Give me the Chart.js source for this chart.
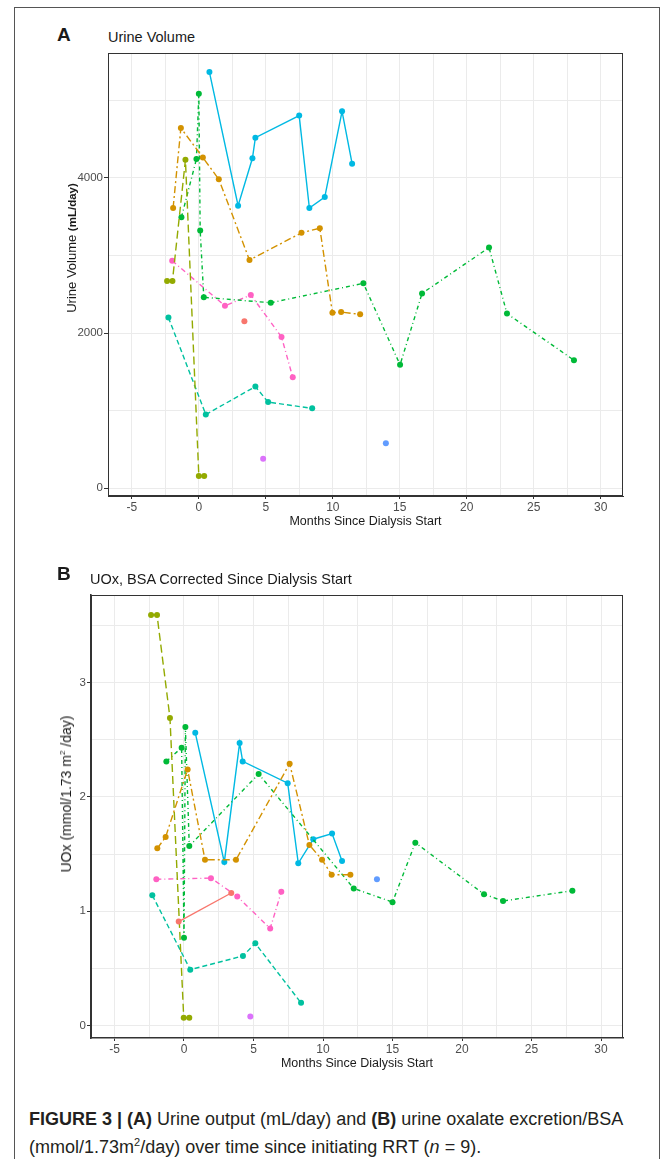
<!DOCTYPE html>
<html>
<head>
<meta charset="utf-8">
<script src="https://cdn.jsdelivr.net/npm/chart.js@4/dist/chart.umd.min.js"></script>
<style>
    body { margin: 0; background: #fff; font-family: "Liberation Sans", Arial, sans-serif; color: #1a1a1a; }
    #frame { position: absolute; left: 14px; top: 7px; width: 646px; height: 1170px; border: 1px solid #555; box-sizing: border-box; }
    canvas { position: absolute; }
    .txt { position: absolute; white-space: nowrap; line-height: 1; }
    .tag { font-weight: bold; font-size: 19px; }
    .ttl { font-size: 14.5px; }
    .ytitle { transform: translate(-50%, -50%) rotate(-90deg); }
    .caption { font-size: 18px; color: #231f20; }
</style>
</head>
<body>
<div id="frame"></div>

<div class="txt tag" style="left:57px; top:25px;">A</div>
<div class="txt ttl" style="left:108px; top:30px;">Urine Volume</div>
<canvas id="chartA" width="626" height="490" style="left:14px; top:44px;"></canvas>
<div class="txt ytitle" style="left:72px; top:248px; font-size:13px;">Urine Volume <b style="font-size:11.5px;">(mL/day)</b></div>

<div class="txt tag" style="left:57px; top:564px;">B</div>
<div class="txt ttl" style="left:90px; top:572px;">UOx, BSA Corrected Since Dialysis Start</div>
<canvas id="chartB" width="626" height="490" style="left:14px; top:586px;"></canvas>
<div class="txt ytitle" style="left:66px; top:794px; font-size:14px;">UOx (mmol/1.73 m<sup style="font-size:8px;">2</sup> /day)</div>

<div class="txt caption" style="left:29px; top:1110px;"><b>FIGURE 3 | (A)</b> Urine output (mL/day) and <b>(B)</b> urine oxalate excretion/BSA</div>
<div class="txt caption" style="left:29px; top:1137px;">(mmol/1.73m<sup style="font-size:11px;">2</sup>/day) over time since initiating RRT (<i>n</i> = 9).</div>

<script>
// panel A: urine volume (mL/day) vs months since dialysis start
let redMonthsA = [3.40];
let redVolume = [2150];
let orangeMonthsA = [-1.92, -1.34, 0.30, 1.49, 3.78, 7.66, 9.03, 9.97, 10.62, 12.04];
let orangeVolume = [3610, 4640, 4260, 3980, 2940, 3290, 3350, 2260, 2270, 2240];
let oliveMonthsA = [-2.37, -1.97, -1.00, 0.00, 0.40];
let oliveVolume = [2670, 2670, 4230, 160, 160];
let greenMonthsA = [-1.30, -0.18, 0.00, 0.10, 0.37, 5.37, 12.28, 15.02, 16.66, 21.66, 23.00, 28.00];
let greenVolume = [3490, 4240, 5080, 3320, 2460, 2390, 2640, 1590, 2510, 3100, 2250, 1650];
let tealMonthsA = [-2.27, 0.52, 4.22, 5.17, 8.46];
let tealVolume = [2200, 950, 1310, 1110, 1030];
let cyanMonthsA = [0.79, 2.93, 4.00, 4.22, 7.49, 8.25, 9.40, 10.69, 11.44];
let cyanVolume = [5360, 3640, 4250, 4515, 4800, 3610, 3750, 4855, 4180];
let blueMonthsA = [13.96];
let blueVolume = [580];
let purpleMonthsA = [4.80];
let purpleVolume = [380];
let pinkMonthsA = [-1.99, 1.95, 3.88, 6.17, 7.01];
let pinkVolume = [2930, 2350, 2490, 1950, 1430];

// panel B: UOx (mmol/1.73 m2/day)
let redMonthsB = [-0.38, 3.40];
let redUox = [0.91, 1.16];
let orangeMonthsB = [-1.92, -1.32, 0.26, 1.51, 3.74, 7.60, 9.02, 9.93, 10.62, 11.97];
let orangeUox = [1.55, 1.65, 2.24, 1.45, 1.45, 2.29, 1.58, 1.45, 1.32, 1.32];
let oliveMonthsB = [-2.37, -1.94, -1.01, -0.02, 0.38];
let oliveUox = [3.59, 3.59, 2.69, 0.07, 0.07];
let greenMonthsB = [-1.27, -0.17, 0.00, 0.10, 0.38, 5.37, 12.21, 15.00, 16.64, 21.58, 22.95, 27.94];
let greenUox = [2.31, 2.43, 0.77, 2.61, 1.57, 2.20, 1.20, 1.08, 1.60, 1.15, 1.09, 1.18];
let tealMonthsB = [-2.28, 0.45, 4.24, 5.13, 8.42];
let tealUox = [1.14, 0.49, 0.61, 0.72, 0.20];
let cyanMonthsB = [0.81, 2.90, 4.00, 4.22, 7.46, 8.22, 9.30, 10.65, 11.37];
let cyanUox = [2.56, 1.43, 2.47, 2.31, 2.12, 1.42, 1.63, 1.68, 1.44];
let blueMonthsB = [13.88];
let blueUox = [1.28];
let purpleMonthsB = [4.77];
let purpleUox = [0.08];
let pinkMonthsB = [-1.99, 1.94, 3.83, 6.20, 7.00];
let pinkUox = [1.28, 1.29, 1.13, 0.85, 1.17];

let xTicks = [-5, -2.5, 0, 2.5, 5, 7.5, 10, 12.5, 15, 17.5, 20, 22.5, 25, 27.5, 30];
let yTicksA = [0, 1000, 2000, 3000, 4000, 5000];
let yTicksB = [0, 0.5, 1, 1.5, 2, 2.5, 3, 3.5];

let colors = {
    red: '#F8766D', orange: '#D39200', olive: '#93AA00', green: '#00BA38', teal: '#00C19F',
    cyan: '#00B9E3', blue: '#619CFF', purple: '#DB72FB', pink: '#FF61C3'
};
let dashes = {
    red: [], orange: [7, 3, 2, 3], olive: [8, 4], green: [4, 3, 1, 3], teal: [5, 3],
    cyan: [], blue: [], purple: [], pink: [5, 3, 1, 3]
};

let seriesA = [
    ['red', redMonthsA, redVolume], ['orange', orangeMonthsA, orangeVolume], ['olive', oliveMonthsA, oliveVolume],
    ['green', greenMonthsA, greenVolume], ['teal', tealMonthsA, tealVolume], ['cyan', cyanMonthsA, cyanVolume],
    ['blue', blueMonthsA, blueVolume], ['purple', purpleMonthsA, purpleVolume], ['pink', pinkMonthsA, pinkVolume]
];
let seriesB = [
    ['red', redMonthsB, redUox], ['orange', orangeMonthsB, orangeUox], ['olive', oliveMonthsB, oliveUox],
    ['green', greenMonthsB, greenUox], ['teal', tealMonthsB, tealUox], ['cyan', cyanMonthsB, cyanUox],
    ['blue', blueMonthsB, blueUox], ['purple', purpleMonthsB, purpleUox], ['pink', pinkMonthsB, pinkUox]
];

// panel frame (ggplot style box round the plot area)
let boxPlugin = {
    id: 'box',
    beforeDatasetsDraw(chart) {
        let {ctx, chartArea: a} = chart;
        ctx.save();
        ctx.strokeStyle = '#333';
        ctx.lineWidth = 1;
        ctx.strokeRect(a.left + 0.5, a.top + 0.5, a.width - 1, a.height - 1);
        ctx.restore();
    }
};

let makeChart = (id, series, opts) => {
    new Chart(document.getElementById(id), {
        type: 'scatter',
        data: {
            datasets: series.map(([name, xs, ys]) => ({
                label: name,
                data: xs.map((x, i) => ({x: x, y: ys[i]})),
                showLine: true,
                borderColor: colors[name],
                backgroundColor: colors[name],
                borderWidth: 1.4,
                borderDash: dashes[name],
                pointRadius: 3,
                pointBorderWidth: 0,
                pointHoverRadius: 3
            }))
        },
        options: {
            responsive: false,
            animation: false,
            layout: {padding: {top: 9, right: 17, left: 0, bottom: 0}},
            plugins: {legend: {display: false}, tooltip: {enabled: false}},
            scales: {
                x: {
                    type: 'linear',
                    min: opts.xMin,
                    max: opts.xMax,
                    afterBuildTicks: s => { s.ticks = xTicks.map(v => ({value: v})); },
                    afterFit: s => { s.height = 38; },
                    grid: {
                        color: '#ebebeb',
                        tickLength: 3,
                        tickColor: c => (c.tick && c.tick.value % 5 === 0 ? '#333' : 'rgba(0,0,0,0)')
                    },
                    border: {color: '#333', width: opts.axisWidth},
                    ticks: {
                        autoSkip: false, maxRotation: 0, padding: 1, color: '#4d4d4d',
                        font: {family: 'Liberation Sans', size: 12},
                        callback: v => (v % 5 === 0 ? v : '')
                    },
                    title: {
                        display: true, text: 'Months Since Dialysis Start', color: '#1a1a1a',
                        font: {family: 'Liberation Sans', size: 12.5}, padding: {top: 0, bottom: 5}
                    }
                },
                y: {
                    type: 'linear',
                    min: opts.yMin,
                    max: opts.yMax,
                    afterBuildTicks: s => { s.ticks = opts.yTicks.map(v => ({value: v})); },
                    afterFit: s => { s.width = opts.yWidth; },
                    grid: {
                        color: '#ebebeb',
                        tickLength: 4,
                        tickColor: c => (c.tick && c.tick.value % opts.yMajor === 0 ? '#333' : 'rgba(0,0,0,0)')
                    },
                    border: {color: '#333', width: opts.axisWidth},
                    ticks: {
                        autoSkip: false, padding: 1, color: '#4d4d4d',
                        font: {family: 'Liberation Sans', size: 11.5},
                        callback: v => (v % opts.yMajor === 0 ? v : '')
                    }
                }
            }
        },
        plugins: [boxPlugin]
    });
};

makeChart('chartA', seriesA, {
    xMin: -6.78, xMax: 31.66, yMin: -99, yMax: 5606,
    yTicks: yTicksA, yMajor: 2000, yWidth: 94, axisWidth: 1
});
makeChart('chartB', seriesB, {
    xMin: -6.69, xMax: 31.58, yMin: -0.107, yMax: 3.764,
    yTicks: yTicksB, yMajor: 1, yWidth: 77, axisWidth: 1.6
});
</script>
</body>
</html>
